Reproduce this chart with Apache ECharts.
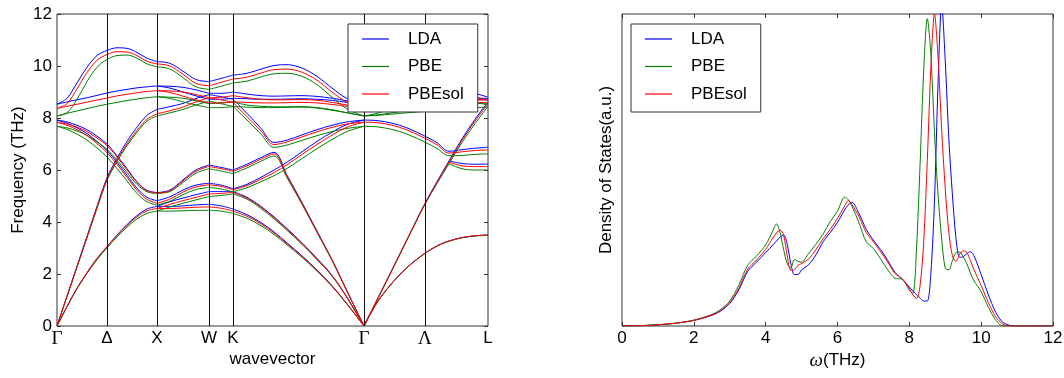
<!DOCTYPE html>
<html>
<head>
<meta charset="utf-8">
<script src="https://cdn.jsdelivr.net/npm/echarts@6/dist/echarts.min.js"></script>
<style>
  html, body { margin: 0; padding: 0; background: #ffffff; }
  #chart { width: 1064px; height: 378px; }
</style>
</head>
<body>
<div id="chart"></div>
<script>
const _ = null;

// Path through the Brillouin zone (cumulative distance along Γ-X-W-K-Γ-L)
const kPath = [0, 0.1, 0.2, 0.3, 0.4, 0.5, 0.6, 0.7, 0.8, 0.9, 1.0,
  1.13, 1.26, 1.39, 1.52, 1.64, 1.76,
  1.9, 2.04, 2.17, 2.3, 2.45, 2.6, 2.75, 2.9, 3.07,
  3.2, 3.35, 3.5, 3.68, 3.8, 3.92, 4.05, 4.18, 4.31];
// indices where the path turns a corner (X, W, K, Γ)
const kBreaks = [10, 14, 16, 25];
const kLabelPos = [0, 0.5, 1.0, 1.52, 1.76, 3.07, 3.68, 4.31];
const kLabels = ['Γ', 'Δ', 'X', 'W', 'K', 'Γ', 'Λ', 'L'];

// Phonon branches (THz), one row per branch
const bandsLDA = [
  [0, 0.75, 1.45, 2.05, 2.6, 3.05, 3.5, 3.9, 4.25, 4.5, 4.6, 4.6, 4.62, 4.66, 4.68, 4.62, 4.5, 4.28, 3.98, 3.62, 3.2, 2.7, 2.15, 1.55, 0.85, 0, 0.9, 1.65, 2.25, 2.8, 3.08, 3.27, 3.4, 3.47, 3.5],
  [_, _, _, _, _, _, _, _, _, _, 4.6, 4.78, 4.92, 5.05, 5.17, 5.17, 5.17, 4.95, 4.6, 4.2, 3.75, 3.2, 2.6, 1.95, 1.1, 0, _, _, _, _, _, _, _, _, _],
  [0, 1.15, 2.3, 3.45, 4.6, 5.7, 6.45, 7.1, 7.65, 8.1, 8.33, 8.44, 8.56, 8.75, 8.9, 8.82, 8.72, 8.18, 7.6, 7.06, 7.15, 7.35, 7.55, 7.72, 7.85, 7.92, 7.9, 7.8, 7.62, 7.3, 7.05, 6.72, 6.78, 6.84, 6.87],
  [7.92, 7.8, 7.62, 7.4, 7.1, 6.75, 6.3, 5.8, 5.3, 4.95, 4.82, 4.97, 5.23, 5.42, 5.49, 5.42, 5.28, 5.45, 5.72, 6.0, 6.3, 6.7, 7.1, 7.45, 7.75, 7.92, _, _, _, _, _, _, _, _, _],
  [7.92, 7.85, 7.72, 7.55, 7.3, 7.0, 6.55, 6.05, 5.55, 5.22, 5.13, 5.23, 5.62, 6.0, 6.19, 6.1, 6.0, 6.22, 6.48, 6.68, 5.8, 4.75, 3.65, 2.55, 1.35, 0, 1.0, 2.16, 3.33, 4.72, 5.55, 6.35, 7.2, 7.95, 8.62],
  [8.53, 8.62, 8.7, 8.78, 8.87, 8.96, 9.04, 9.1, 9.16, 9.2, 9.23, 9.22, 9.18, 9.08, 8.95, 8.95, 9.0, 8.92, 8.86, 8.84, 8.85, 8.86, 8.83, 8.76, 8.66, 8.53, 8.56, 8.62, 8.68, 8.73, 8.76, 8.78, 8.78, 8.77, 8.75],
  [_, _, _, _, _, _, _, _, _, _, 9.23, 9.15, 9.0, 8.85, 8.72, 8.72, 8.76, 8.74, 8.72, 8.72, 8.73, 8.74, 8.72, 8.68, 8.6, 8.53, 8.55, 8.58, 8.62, 8.65, 8.67, 8.69, 8.7, 8.7, 8.7],
  [8.53, 8.76, 9.35, 9.95, 10.4, 10.6, 10.7, 10.68, 10.52, 10.3, 10.17, 10.1, 9.8, 9.48, 9.4, 9.52, 9.65, 9.72, 9.88, 10.02, 10.05, 9.92, 9.6, 9.15, 8.75, 8.53, 8.62, 8.8, 8.95, 9.05, 9.1, 9.1, 9.05, 8.95, 8.8],
  [_, _, _, _, _, _, _, _, _, _, _, _, _, _, _, _, _, _, _, _, _, _, _, _, _, _, _, _, _, _, _, 6.35, 6.25, 6.22, 6.23]
];
const bandsPBE = [
  [0, 0.74, 1.43, 2.02, 2.55, 3.0, 3.42, 3.8, 4.12, 4.33, 4.42, 4.42, 4.43, 4.45, 4.45, 4.42, 4.33, 4.14, 3.86, 3.52, 3.12, 2.64, 2.11, 1.52, 0.84, 0, 0.9, 1.64, 2.24, 2.79, 3.07, 3.26, 3.39, 3.46, 3.49],
  [_, _, _, _, _, _, _, _, _, _, 4.42, 4.58, 4.72, 4.85, 4.98, 5.02, 5.08, 4.88, 4.52, 4.12, 3.68, 3.14, 2.55, 1.92, 1.09, 0, _, _, _, _, _, _, _, _, _],
  [0, 1.13, 2.26, 3.39, 4.52, 5.6, 6.32, 6.93, 7.45, 7.88, 8.08, 8.2, 8.33, 8.5, 8.65, 8.55, 8.45, 7.92, 7.38, 6.87, 6.96, 7.14, 7.32, 7.48, 7.6, 7.68, 7.66, 7.56, 7.38, 7.07, 6.83, 6.55, 6.56, 6.6, 6.62],
  [7.68, 7.56, 7.38, 7.15, 6.85, 6.5, 6.06, 5.58, 5.1, 4.78, 4.65, 4.8, 5.05, 5.25, 5.33, 5.27, 5.16, 5.32, 5.55, 5.78, 6.06, 6.44, 6.82, 7.17, 7.48, 7.68, _, _, _, _, _, _, _, _, _],
  [7.68, 7.62, 7.5, 7.33, 7.08, 6.8, 6.38, 5.9, 5.45, 5.16, 5.1, 5.17, 5.52, 5.88, 6.05, 5.96, 5.86, 6.08, 6.34, 6.54, 5.7, 4.68, 3.6, 2.52, 1.33, 0, 0.99, 2.14, 3.3, 4.68, 5.48, 6.24, 7.06, 7.78, 8.45],
  [8.08, 8.18, 8.27, 8.36, 8.45, 8.53, 8.6, 8.67, 8.73, 8.78, 8.82, 8.8, 8.76, 8.66, 8.55, 8.58, 8.62, 8.5, 8.45, 8.43, 8.43, 8.44, 8.4, 8.32, 8.2, 8.08, 8.12, 8.2, 8.28, 8.36, 8.42, 8.47, 8.52, 8.55, 8.57],
  [_, _, _, _, _, _, _, _, _, _, 8.82, 8.75, 8.62, 8.5, 8.4, 8.4, 8.44, 8.42, 8.4, 8.4, 8.41, 8.42, 8.38, 8.3, 8.2, 8.08, 8.1, 8.15, 8.2, 8.26, 8.3, 8.34, 8.38, 8.4, 8.42],
  [8.08, 8.2, 8.72, 9.4, 9.95, 10.25, 10.4, 10.42, 10.3, 10.08, 9.97, 9.88, 9.55, 9.2, 9.1, 9.22, 9.35, 9.42, 9.58, 9.7, 9.72, 9.6, 9.28, 8.8, 8.35, 8.08, 8.18, 8.38, 8.55, 8.66, 8.72, 8.73, 8.68, 8.6, 8.5],
  [_, _, _, _, _, _, _, _, _, _, _, _, _, _, _, _, _, _, _, _, _, _, _, _, _, _, _, _, _, _, _, 6.24, 6.05, 6.0, 6.0]
];
const bandsPBEsol = [
  [0, 0.75, 1.45, 2.05, 2.6, 3.05, 3.48, 3.86, 4.2, 4.43, 4.52, 4.52, 4.54, 4.57, 4.58, 4.53, 4.42, 4.22, 3.93, 3.58, 3.17, 2.68, 2.14, 1.54, 0.85, 0, 0.9, 1.65, 2.25, 2.8, 3.08, 3.27, 3.4, 3.47, 3.5],
  [_, _, _, _, _, _, _, _, _, _, 4.52, 4.68, 4.82, 4.95, 5.08, 5.1, 5.14, 4.92, 4.57, 4.17, 3.72, 3.18, 2.58, 1.94, 1.1, 0, _, _, _, _, _, _, _, _, _],
  [0, 1.14, 2.28, 3.42, 4.56, 5.65, 6.38, 7.0, 7.52, 7.95, 8.16, 8.28, 8.42, 8.62, 8.78, 8.7, 8.6, 8.05, 7.5, 6.98, 7.08, 7.27, 7.47, 7.64, 7.77, 7.84, 7.82, 7.72, 7.54, 7.22, 6.97, 6.65, 6.7, 6.75, 6.77],
  [7.84, 7.72, 7.55, 7.32, 7.02, 6.67, 6.22, 5.72, 5.22, 4.87, 4.72, 4.88, 5.15, 5.35, 5.43, 5.37, 5.24, 5.4, 5.65, 5.9, 6.2, 6.6, 6.98, 7.34, 7.65, 7.84, _, _, _, _, _, _, _, _, _],
  [7.84, 7.77, 7.65, 7.48, 7.23, 6.94, 6.5, 6.0, 5.52, 5.2, 5.12, 5.2, 5.58, 5.95, 6.14, 6.05, 5.95, 6.16, 6.42, 6.62, 5.76, 4.72, 3.63, 2.54, 1.34, 0, 1.0, 2.15, 3.32, 4.7, 5.52, 6.3, 7.14, 7.88, 8.55],
  [8.37, 8.45, 8.53, 8.61, 8.69, 8.77, 8.85, 8.91, 8.97, 9.02, 9.05, 9.04, 9.0, 8.9, 8.78, 8.8, 8.86, 8.78, 8.72, 8.7, 8.7, 8.71, 8.68, 8.6, 8.5, 8.37, 8.4, 8.46, 8.52, 8.58, 8.62, 8.66, 8.68, 8.7, 8.7],
  [_, _, _, _, _, _, _, _, _, _, 9.05, 8.98, 8.84, 8.7, 8.58, 8.58, 8.62, 8.6, 8.58, 8.58, 8.59, 8.6, 8.58, 8.52, 8.45, 8.37, 8.39, 8.43, 8.47, 8.51, 8.54, 8.56, 8.58, 8.59, 8.6],
  [8.37, 8.55, 9.12, 9.75, 10.22, 10.44, 10.55, 10.54, 10.4, 10.18, 10.08, 10.0, 9.68, 9.33, 9.24, 9.37, 9.5, 9.57, 9.73, 9.86, 9.88, 9.76, 9.45, 9.0, 8.6, 8.37, 8.45, 8.62, 8.78, 8.88, 8.92, 8.93, 8.88, 8.8, 8.68],
  [_, _, _, _, _, _, _, _, _, _, _, _, _, _, _, _, _, _, _, _, _, _, _, _, _, _, _, _, _, _, _, 6.3, 6.16, 6.13, 6.13]
];

// Phonon density of states (arbitrary units)
const dosFreq = [0, 0.5, 1, 1.5, 2, 2.5, 2.75, 3, 3.25, 3.5, 3.75, 4, 4.2, 4.3, 4.4, 4.5, 4.6, 4.7, 4.8, 4.9,
  5, 5.2, 5.4, 5.6, 5.8, 6, 6.2, 6.3, 6.4, 6.6, 6.8, 7, 7.2, 7.4, 7.6, 7.8, 8, 8.1, 8.2, 8.3,
  8.4, 8.5, 8.6, 8.7, 8.8, 8.9, 9, 9.1, 9.2, 9.3, 9.4, 9.5, 9.6, 9.7, 9.8, 10, 10.2, 10.4, 10.6, 10.8, 11, 12];
const dosLDA = [0, 0.001, 0.004, 0.009, 0.018, 0.034, 0.048, 0.072, 0.115, 0.175, 0.205, 0.235, 0.26, 0.272, 0.285, 0.292, 0.262, 0.2, 0.165, 0.165,
  0.18, 0.197, 0.228, 0.27, 0.3, 0.332, 0.372, 0.388, 0.397, 0.36, 0.31, 0.275, 0.245, 0.21, 0.172, 0.15, 0.125, 0.112, 0.1, 0.09,
  0.08, 0.08, 0.17, 0.4, 0.78, 1.03, 0.85, 0.6, 0.42, 0.28, 0.22, 0.222, 0.232, 0.238, 0.225, 0.165, 0.1, 0.045, 0.012, 0.002, 0, 0];
const dosPBE = [0, 0.001, 0.004, 0.009, 0.019, 0.037, 0.053, 0.08, 0.13, 0.195, 0.225, 0.26, 0.305, 0.327, 0.3, 0.245, 0.2, 0.186, 0.213, 0.207,
  0.205, 0.233, 0.262, 0.295, 0.335, 0.368, 0.413, 0.405, 0.385, 0.33, 0.27, 0.248, 0.215, 0.18, 0.153, 0.15, 0.115, 0.105, 0.25, 0.52,
  0.82, 0.985, 0.87, 0.62, 0.42, 0.28, 0.185, 0.18, 0.21, 0.235, 0.237, 0.222, 0.2, 0.17, 0.145, 0.11, 0.06, 0.02, 0, 0, 0, 0];
const dosPBEsol = [0, 0.001, 0.004, 0.009, 0.018, 0.035, 0.05, 0.075, 0.12, 0.182, 0.212, 0.246, 0.282, 0.298, 0.308, 0.29, 0.225, 0.178, 0.18, 0.195,
  0.2, 0.215, 0.245, 0.28, 0.31, 0.345, 0.385, 0.402, 0.39, 0.35, 0.3, 0.27, 0.238, 0.205, 0.168, 0.152, 0.12, 0.1, 0.088, 0.13,
  0.27, 0.53, 0.83, 1.0, 0.86, 0.63, 0.44, 0.3, 0.225, 0.207, 0.23, 0.241, 0.235, 0.21, 0.18, 0.13, 0.075, 0.03, 0.006, 0, 0, 0];

const FONT = 'Liberation Sans, Arial, Helvetica, sans-serif';
const SERIF = 'Liberation Serif, DejaVu Serif, serif';
const FRAME = '#333333';

const functionals = [
  { name: 'LDA', color: '#0000ff', bands: bandsLDA, dos: dosLDA },
  { name: 'PBE', color: '#008000', bands: bandsPBE, dos: dosPBE },
  { name: 'PBEsol', color: '#ff0000', bands: bandsPBEsol, dos: dosPBEsol }
];

// Build [k, ω] pairs; break the polyline at path corners so kinks stay sharp
function bandData(vals) {
  const out = [];
  vals.forEach((v, i) => {
    const y = v === null ? '-' : v;
    out.push([kPath[i], y]);
    if (kBreaks.indexOf(i) >= 0 && v !== null) {
      out.push([kPath[i], '-']);
      out.push([kPath[i], y]);
    }
  });
  return out;
}

function kFormatter(v) {
  const i = kLabelPos.findIndex(p => Math.abs(p - v) < 1e-6);
  if (i < 0) return '';
  const t = kLabels[i];
  return (t === 'Γ' || t === 'Λ') ? '{g|' + t + '}' : t;
}

const series = [];
functionals.forEach((f, fi) => {
  f.bands.forEach((b, bi) => {
    const s = {
      name: f.name, type: 'line', xAxisIndex: 0, yAxisIndex: 0,
      data: bandData(b), symbol: 'none', showSymbol: false, smooth: 0.35,
      connectNulls: false, silent: true, animation: false, z: 3,
      lineStyle: { color: f.color, width: 1 }, itemStyle: { color: f.color },
      emphasis: { disabled: true }
    };
    if (fi === 0 && bi === 0) {
      s.markLine = {
        silent: true, symbol: 'none', animation: false,
        label: { show: false },
        lineStyle: { color: '#111111', width: 1, type: 'solid' },
        emphasis: { disabled: true },
        data: kLabelPos.slice(1, -1).map(x => ({ xAxis: x }))
      };
    }
    series.push(s);
  });
});
functionals.forEach(f => {
  series.push({
    name: f.name, type: 'line', xAxisIndex: 1, yAxisIndex: 2,
    data: dosFreq.map((x, i) => [x, f.dos[i]]), symbol: 'none', showSymbol: false,
    smooth: 0.3, silent: true, animation: false, clip: true, z: 3,
    lineStyle: { color: f.color, width: 1 }, itemStyle: { color: f.color },
    emphasis: { disabled: true }
  });
});

const legendBase = {
  orient: 'vertical', top: 24, data: ['LDA', 'PBE', 'PBEsol'],
  icon: 'rect', itemWidth: 27, itemHeight: 1.2, itemGap: 7.5, padding: [5, 14, 8, 14],
  backgroundColor: '#ffffff', borderColor: FRAME, borderWidth: 1, borderRadius: 0,
  selectedMode: false, z: 10,
  textStyle: { fontFamily: FONT, fontSize: 17, color: '#000', lineHeight: 20, padding: [0, 0, 0, 14] }
};

const axisText = { fontFamily: FONT, fontSize: 17, color: '#000' };

const option = {
  backgroundColor: '#ffffff',
  animation: false,
  grid: [
    { left: 57, top: 14, width: 431, height: 312, show: true, borderColor: FRAME, borderWidth: 1, backgroundColor: 'transparent', containLabel: false, outerBoundsMode: 'none' },
    { left: 622, top: 14, width: 431, height: 312, show: true, borderColor: FRAME, borderWidth: 1, backgroundColor: 'transparent', containLabel: false, outerBoundsMode: 'none' }
  ],
  legend: [
    Object.assign({}, legendBase, { left: 348 }),
    Object.assign({}, legendBase, { left: 631 })
  ],
  xAxis: [
    {
      gridIndex: 0, type: 'value', min: 0, max: 4.31,
      axisLine: { show: false }, axisTick: { show: false }, splitLine: { show: false },
      axisLabel: Object.assign({}, axisText, {
        customValues: kLabelPos, formatter: kFormatter, margin: 4,
        rich: { g: { fontFamily: SERIF, fontSize: 19, color: '#000' } }
      }),
      name: 'wavevector', nameLocation: 'middle', nameGap: 25, nameMoveOverlap: false,
      nameTextStyle: axisText
    },
    {
      gridIndex: 1, type: 'value', min: 0, max: 12, interval: 2,
      axisLine: { show: false }, splitLine: { show: false },
      axisTick: { inside: true, length: 4, lineStyle: { color: FRAME } },
      axisLabel: Object.assign({}, axisText, { margin: 4 }),
      name: '{i|ω}(THz)', nameLocation: 'middle', nameGap: 25, nameMoveOverlap: false,
      nameTextStyle: Object.assign({}, axisText, {
        rich: { i: { fontFamily: SERIF, fontStyle: 'italic', fontSize: 19, color: '#000' } }
      })
    },
    {
      gridIndex: 1, type: 'value', min: 0, max: 12, interval: 2, position: 'top',
      axisLine: { show: false }, splitLine: { show: false }, axisLabel: { show: false },
      axisTick: { inside: true, length: 4, lineStyle: { color: FRAME } }
    }
  ],
  yAxis: [
    {
      gridIndex: 0, type: 'value', min: 0, max: 12, interval: 2,
      axisLine: { show: false }, splitLine: { show: false },
      axisTick: { inside: true, length: 4, lineStyle: { color: FRAME } },
      axisLabel: Object.assign({}, axisText, { margin: 5 }),
      name: 'Frequency (THz)', nameLocation: 'middle', nameGap: 30, nameRotate: 90,
      nameMoveOverlap: false, nameTextStyle: axisText
    },
    {
      gridIndex: 0, type: 'value', min: 0, max: 12, interval: 2, position: 'right',
      axisLine: { show: false }, splitLine: { show: false }, axisLabel: { show: false },
      axisTick: { inside: true, length: 4, lineStyle: { color: FRAME } }
    },
    {
      gridIndex: 1, type: 'value', min: 0, max: 1,
      axisLine: { show: false }, splitLine: { show: false },
      axisLabel: { show: false }, axisTick: { show: false },
      name: 'Density of States(a.u.)', nameLocation: 'middle', nameGap: 7, nameRotate: 90,
      nameMoveOverlap: false, nameTextStyle: axisText
    }
  ],
  series: series
};

const chart = echarts.init(document.getElementById('chart'), null, { renderer: 'canvas' });
chart.setOption(option);
</script>
</body>
</html>
